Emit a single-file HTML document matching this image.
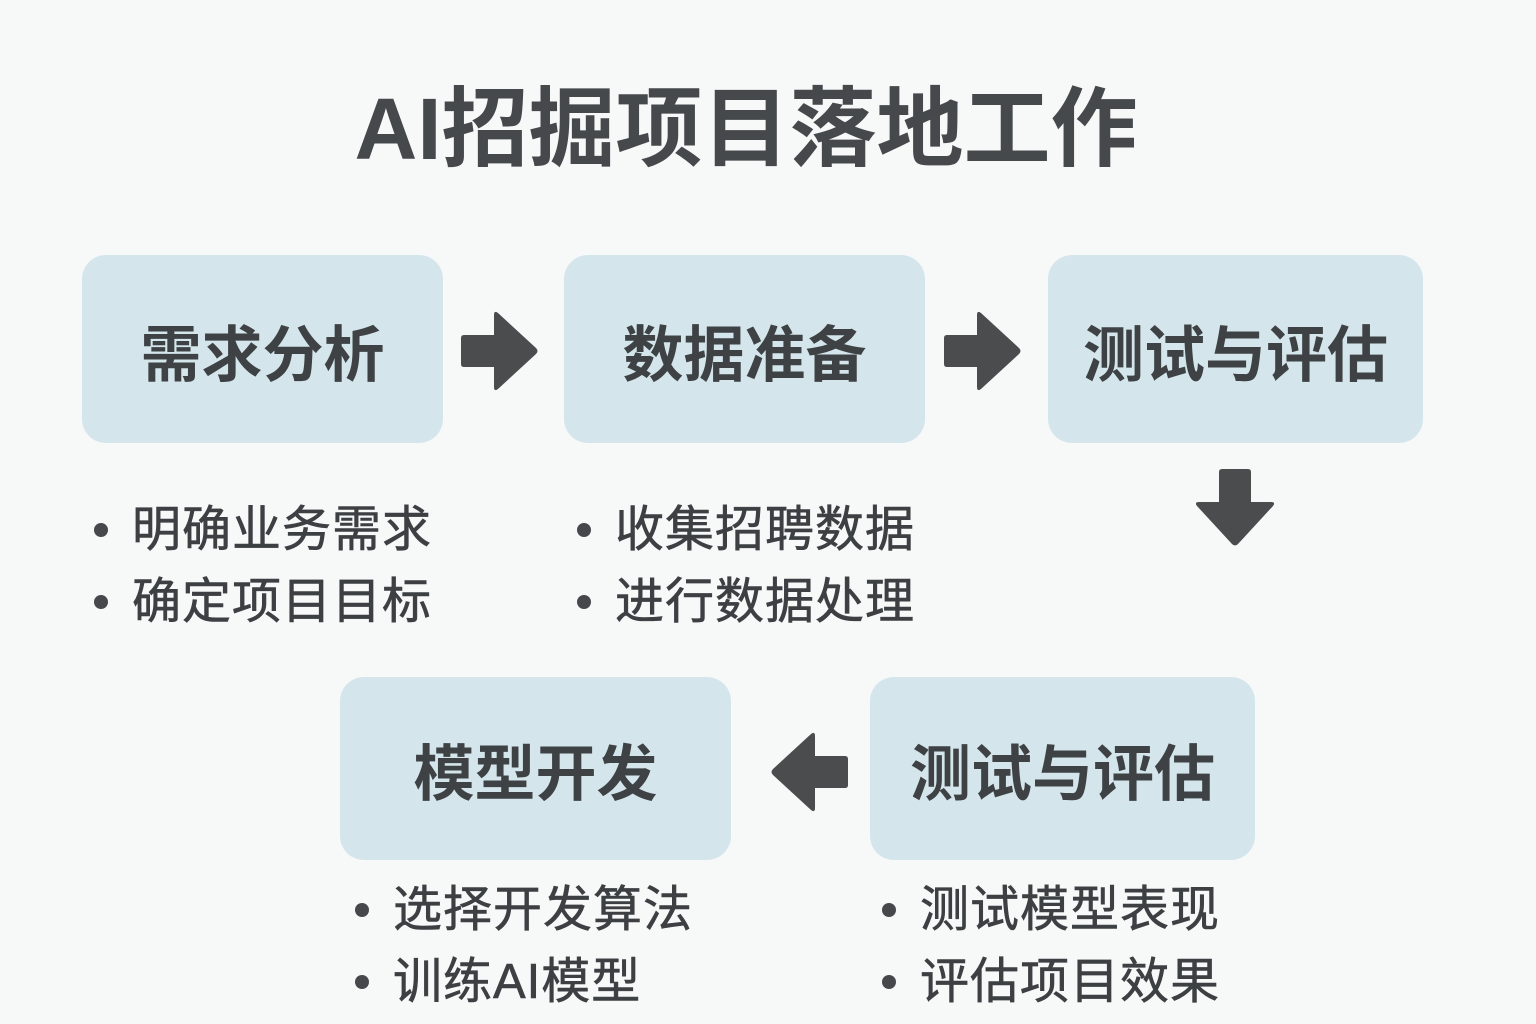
<!DOCTYPE html>
<html><head><meta charset="utf-8"><style>
body{margin:0;width:1536px;height:1024px;background:#f7f8f8;position:relative;overflow:hidden;font-family:"Liberation Sans","Noto Sans CJK SC",sans-serif;color:#404447}
.t{position:absolute;left:0;width:1492px;top:80px;text-align:center;font-size:87px;font-weight:bold;line-height:100px;color:#45494c}
.b{position:absolute;background:#d4e6ec;border-radius:24px;display:flex;align-items:center;justify-content:center;font-size:61px;font-weight:bold;color:#3e4245}
.l{position:absolute;font-size:49px;letter-spacing:1px;line-height:72px;color:#3c4043;white-space:nowrap;-webkit-text-stroke:0.6px #3c4043}
.l div{position:relative;padding-left:38px}
.l div:before{content:"";position:absolute;left:0;top:29px;width:14px;height:14px;border-radius:50%;background:#45494c}
svg{position:absolute}
</style></head><body>
<div class="t">AI招掘项目落地工作</div>
<div class="b" style="left:82px;top:255px;width:361px;height:188px">需求分析</div>
<div class="b" style="left:564px;top:255px;width:361px;height:188px">数据准备</div>
<div class="b" style="left:1048px;top:255px;width:375px;height:188px">测试与评估</div>
<div class="b" style="left:340px;top:677px;width:391px;height:183px">模型开发</div>
<div class="b" style="left:870px;top:677px;width:385px;height:183px">测试与评估</div>

<svg style="left:460px;top:310px" width="80" height="82" viewBox="0 0 80 82"><path d="M4 25H34V5Q34 0 38 3L76 38Q79 41 76 44L38 79Q34 82 34 77V57H4Q1 57 1 54V28Q1 25 4 25Z" fill="#4a4c4e"/></svg>
<svg style="left:943px;top:310px" width="80" height="82" viewBox="0 0 80 82"><path d="M4 25H34V5Q34 0 38 3L76 38Q79 41 76 44L38 79Q34 82 34 77V57H4Q1 57 1 54V28Q1 25 4 25Z" fill="#4a4c4e"/></svg>
<svg style="left:769px;top:731px" width="80" height="82" viewBox="0 0 80 82"><g transform="translate(80,0) scale(-1,1)"><path d="M4 25H34V5Q34 0 38 3L76 38Q79 41 76 44L38 79Q34 82 34 77V57H4Q1 57 1 54V28Q1 25 4 25Z" fill="#4a4c4e"/></g></svg>
<svg style="left:1196px;top:468px" width="80" height="80" viewBox="0 0 80 80"><g transform="translate(80,0) rotate(90)"><path d="M4 25H34V5Q34 0 38 3L76 38Q79 41 76 44L38 79Q34 82 34 77V57H4Q1 57 1 54V28Q1 25 4 25Z" fill="#4a4c4e"/></g></svg>

<div class="l" style="left:94px;top:494px"><div>明确业务需求</div><div>确定项目目标</div></div>
<div class="l" style="left:577px;top:494px"><div>收集招聘数据</div><div>进行数据处理</div></div>
<div class="l" style="left:355px;top:874px"><div>选择开发算法</div><div>训练AI模型</div></div>
<div class="l" style="left:882px;top:874px"><div>测试模型表现</div><div>评估项目效果</div></div>
</body></html>
